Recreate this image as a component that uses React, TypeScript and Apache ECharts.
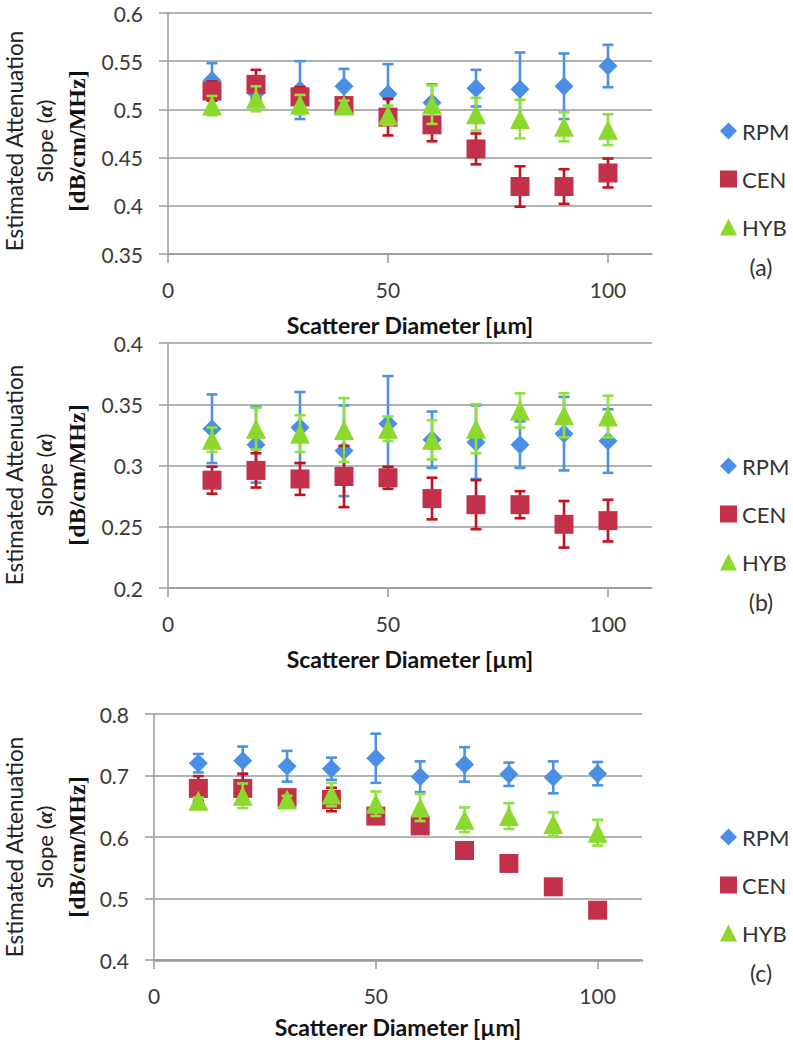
import React, { useEffect, useRef } from "react";
import * as echarts from "echarts";

// ---------- data ----------
const diameters = [10, 20, 30, 40, 50, 60, 70, 80, 90, 100];
const seriesNames = ["RPM", "CEN", "HYB"];
const panelLabels = ["(a)", "(b)", "(c)"];

// panel (a)
const rpmA = [0.530, 0.517, 0.520, 0.524, 0.516, 0.507, 0.522, 0.521, 0.524, 0.545];
const rpmAErr = [0.018, 0.010, 0.030, 0.018, 0.031, 0.019, 0.019, 0.038, 0.034, 0.022];
const cenA = [0.519, 0.526, 0.513, 0.504, 0.492, 0.484, 0.459, 0.420, 0.420, 0.434];
const cenAErr = [0.010, 0.015, 0.010, 0.008, 0.019, 0.017, 0.016, 0.021, 0.018, 0.015];
const hybA = [0.504, 0.511, 0.505, 0.504, 0.494, 0.505, 0.495, 0.490, 0.482, 0.479];
const hybAErr = [0.010, 0.013, 0.010, 0.005, 0.010, 0.020, 0.017, 0.020, 0.015, 0.016];

// panel (b)
const rpmB = [0.330, 0.317, 0.331, 0.312, 0.334, 0.321, 0.319, 0.317, 0.326, 0.320];
const rpmBErr = [0.028, 0.031, 0.029, 0.037, 0.039, 0.023, 0.030, 0.019, 0.030, 0.026];
const cenB = [0.288, 0.296, 0.289, 0.291, 0.290, 0.273, 0.268, 0.268, 0.252, 0.255];
const cenBErr = [0.011, 0.014, 0.013, 0.025, 0.009, 0.017, 0.020, 0.011, 0.019, 0.017];
const hybB = [0.321, 0.330, 0.326, 0.329, 0.330, 0.321, 0.330, 0.345, 0.341, 0.340];
const hybBErr = [0.010, 0.017, 0.015, 0.026, 0.010, 0.016, 0.020, 0.014, 0.018, 0.017];

// panel (c)
const rpmC = [0.720, 0.724, 0.715, 0.711, 0.728, 0.698, 0.718, 0.702, 0.697, 0.703];
const rpmCErr = [0.015, 0.023, 0.025, 0.018, 0.040, 0.025, 0.028, 0.019, 0.026, 0.019];
const cenC = [0.679, 0.679, 0.664, 0.661, 0.634, 0.618, 0.578, 0.557, 0.519, 0.481];
const cenCErr = [0.020, 0.024, 0.010, 0.019, 0.005, 0.005, 0.006, 0.002, 0.010, 0.005];
const hybC = [0.659, 0.667, 0.661, 0.669, 0.654, 0.648, 0.628, 0.634, 0.621, 0.607];
const hybCErr = [0.005, 0.020, 0.006, 0.019, 0.020, 0.022, 0.020, 0.021, 0.019, 0.021];

// axis ranges
const yMins = [0.35, 0.2, 0.4];
const yMaxs = [0.6, 0.4, 0.8];
const ySteps = [0.05, 0.05, 0.1];
const xTickValues = [0, 50, 100];

// ---------- styling ----------
const FONT = "Lato, 'Open Sans', sans-serif";
const markerColors = ["#4a8fe6", "#c3304a", "#8cd82c"];
const errColors = ["#4b92e2", "#c4101f", "#8ee23c"];
const symbols = ["diamond", "rect", "triangle"];
const symbolSizes: any[] = [[19, 19], [19, 19], [20, 20]];
const gridColor = "#929c9c";
const labelColor = "#3a3a3a";

const gridBoxes = [
  { left: 168, top: 13, width: 484, height: 241 },
  { left: 168, top: 343, width: 484, height: 245 },
  { left: 154, top: 714, width: 488, height: 246 },
];
const xNameGaps = [61, 61, 57];
const legendTops = [120, 455, 826];
const titleCenters = [141, 475, 847];

export default function App() {
  const ref = useRef<HTMLDivElement>(null);

  useEffect(() => {
    if (!ref.current) return;
    const chart = echarts.init(ref.current, undefined, { renderer: "svg" });

    const panels = [
      { vals: [rpmA, cenA, hybA], errs: [rpmAErr, cenAErr, hybAErr] },
      { vals: [rpmB, cenB, hybB], errs: [rpmBErr, cenBErr, hybBErr] },
      { vals: [rpmC, cenC, hybC], errs: [rpmCErr, cenCErr, hybCErr] },
    ];

    const errRender = (color: string) => (params: any, api: any) => {
      const x = api.value(0);
      const lo = api.value(1);
      const hi = api.value(2);
      const p1 = api.coord([x, hi]);
      const p2 = api.coord([x, lo]);
      const cap = 11;
      const style = { stroke: color, lineWidth: 2.6 };
      return {
        type: "group",
        children: [
          { type: "line", shape: { x1: p1[0], y1: p1[1], x2: p2[0], y2: p2[1] }, style },
          { type: "line", shape: { x1: p1[0] - cap / 2, y1: p1[1], x2: p1[0] + cap / 2, y2: p1[1] }, style },
          { type: "line", shape: { x1: p2[0] - cap / 2, y1: p2[1], x2: p2[0] + cap / 2, y2: p2[1] }, style },
        ],
      };
    };

    const series: any[] = [];
    panels.forEach((p, pi) => {
      seriesNames.forEach((name, si) => {
        series.push({
          type: "custom",
          xAxisIndex: pi,
          yAxisIndex: pi,
          renderItem: errRender(errColors[si]),
          encode: { x: 0, y: [1, 2] },
          data: diameters.map((d, i) => [d, p.vals[si][i] - p.errs[si][i], p.vals[si][i] + p.errs[si][i]]),
          z: 2 + si * 2,
          silent: true,
        });
        series.push({
          type: "scatter",
          name,
          xAxisIndex: pi,
          yAxisIndex: pi,
          symbol: symbols[si],
          symbolSize: symbolSizes[si],
          itemStyle: { color: markerColors[si], opacity: 1 },
          data: diameters.map((d, i) => [d, p.vals[si][i]]),
          z: 3 + si * 2,
        });
      });
    });

    const grid = gridBoxes.map((g) => ({ ...g, containLabel: false }));

    const xAxis = gridBoxes.map((g, i) => ({
      type: "value",
      gridIndex: i,
      min: 0,
      max: 110,
      interval: 50,
      name: "Scatterer Diameter [µm]",
      nameLocation: "middle",
      nameGap: xNameGaps[i],
      nameTextStyle: { fontFamily: FONT, fontSize: 23, lineHeight: 20, fontWeight: "bold", color: "#111" },
      axisLine: { show: true, onZero: false, lineStyle: { color: gridColor, width: i === 2 ? 2.5 : 1.5 } },
      axisTick: { show: true, length: 9, inside: false, customValues: xTickValues, lineStyle: { color: gridColor, width: 1.5 } },
      axisLabel: { customValues: xTickValues, margin: 25, fontFamily: FONT, fontSize: 21, color: labelColor },
      splitLine: { show: false },
    }));

    const yAxis = gridBoxes.map((g, i) => ({
      type: "value",
      gridIndex: i,
      min: yMins[i],
      max: yMaxs[i],
      interval: ySteps[i],
      axisLine: { show: true, lineStyle: { color: gridColor, width: 1.5 } },
      axisTick: { show: true, length: 9, lineStyle: { color: gridColor, width: 1.5 } },
      axisLabel: {
        margin: 25,
        fontFamily: FONT,
        fontSize: 21,
        lineHeight: 16,
        color: labelColor,
        formatter: (v: number) => String(parseFloat(v.toFixed(3))),
      },
      splitLine: { show: true, lineStyle: { color: gridColor, width: 1.5 } },
    }));

    const legend = gridBoxes.map((g, i) => ({
      orient: "vertical",
      left: 720,
      top: legendTops[i],
      padding: 0,
      itemWidth: 17,
      itemHeight: 17,
      itemGap: 26,
      selectedMode: false,
      data: seriesNames.map((n, si) => ({ name: n, icon: symbols[si] })),
      textStyle: { fontFamily: FONT, fontSize: 22, color: "#333" },
    }));

    const graphic: any[] = [];
    gridBoxes.forEach((g, i) => {
      const cy = titleCenters[i];
      graphic.push({
        type: "text",
        x: 14,
        y: cy,
        rotation: Math.PI / 2,
        style: { text: "Estimated Attenuation", fontFamily: FONT, fontSize: 22.5, lineHeight: 19, fill: "#222", align: "center", verticalAlign: "middle" },
      });
      graphic.push({
        type: "text",
        x: 44,
        y: cy,
        rotation: Math.PI / 2,
        style: {
          text: "Slope ({a|α})",
          fontFamily: FONT,
          fontSize: 22,
          fill: "#222",
          align: "center",
          verticalAlign: "middle",
          rich: { a: { fontFamily: "'Liberation Serif', serif", fontStyle: "italic", fontWeight: "bold", fontSize: 22, fill: "#222" } },
        },
      });
      graphic.push({
        type: "text",
        x: 77,
        y: cy,
        rotation: Math.PI / 2,
        style: { text: "[dB/cm/MHz]", fontFamily: "'Liberation Serif', 'DejaVu Serif', serif", fontWeight: "bold", fontSize: 24, fill: "#111", align: "center", verticalAlign: "middle" },
      });
      graphic.push({
        type: "text",
        x: 761,
        y: legendTops[i] + 147,
        style: { text: panelLabels[i], fontFamily: FONT, fontSize: 23, fill: "#333", align: "center", verticalAlign: "middle" },
      });
    });

    chart.setOption({
      animation: false,
      backgroundColor: "#ffffff",
      grid,
      xAxis,
      yAxis,
      legend,
      graphic,
      series,
    });

    return () => chart.dispose();
  }, []);

  return (
    <div
      ref={ref}
      style={{ position: "absolute", left: 0, top: 0, width: 793, height: 1043 }}
    />
  );
}
